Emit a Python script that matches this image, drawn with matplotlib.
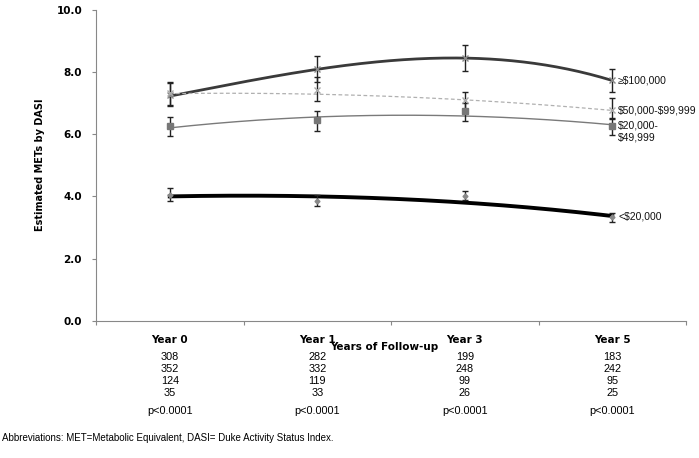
import numpy as np
import matplotlib
matplotlib.use("Agg")
import matplotlib.pyplot as plt

# data
years = ['Year 0', 'Year 1', 'Year 3', 'Year 5']
groups = ['\u2265$100,000', '$50,000-$99,999', '$20,000-\n$49,999', '<$20,000']

# observed means with 95% CI
mean_100k = [7.25, 8.09, 8.44, 7.73]
lo_100k = [6.89, 7.67, 8.04, 7.35]
hi_100k = [7.66, 8.50, 8.85, 8.10]

mean_50k = [7.32, 7.40, 7.08, 6.76]
lo_50k = [6.95, 7.07, 6.80, 6.51]
hi_50k = [7.64, 7.82, 7.35, 7.16]

mean_20k = [6.26, 6.44, 6.73, 6.27]
lo_20k = [5.95, 6.09, 6.41, 5.98]
hi_20k = [6.55, 6.73, 7.00, 6.50]

mean_low = [4.03, 3.84, 4.00, 3.35]
lo_low = [3.86, 3.68, 3.89, 3.19]
hi_low = [4.26, 4.03, 4.18, 3.48]

# fitted trend values at each visit
fit_100k = [7.22, 8.08, 8.44, 7.72]
fit_50k = [7.30, 7.28, 7.10, 6.76]
fit_20k = [6.20, 6.55, 6.58, 6.30]
fit_low = [4.00, 4.00, 3.80, 3.37]

counts = [[308, 282, 199, 183],
          [352, 332, 248, 242],
          [124, 119, 99, 95],
          [35, 33, 26, 25]]
pvals = ['p<0.0001'] * 4

plt.rcParams['text.parse_math'] = False

W, H = 699, 458
fig = plt.figure(figsize=(W / 100, H / 100), dpi=100)
ax = fig.add_axes([96 / W, 1 - 321 / H, 590 / W, 311.5 / H])

x = np.arange(len(years))
xs = np.linspace(0, 3, 200)

def smooth(vals):
    c = np.polyfit(x, vals, 3)
    return np.polyval(c, xs)

series = [
    (mean_100k, lo_100k, hi_100k, fit_100k, dict(color='#3a3a3a', lw=2.0, ls='-'), dict(marker='x', color='#888888', ms=5)),
    (mean_50k, lo_50k, hi_50k, fit_50k, dict(color='#b0b0b0', lw=0.9, ls=(0, (3, 2))), dict(marker='x', color='#aaaaaa', ms=4)),
    (mean_20k, lo_20k, hi_20k, fit_20k, dict(color='#7a7a7a', lw=1.0, ls='-'), dict(marker='s', color='#777777', ms=4)),
    (mean_low, lo_low, hi_low, fit_low, dict(color='black', lw=2.8, ls='-'), dict(marker='D', color='#888888', ms=2.5)),
]

for m, lo, hi, fit, lstyle, mstyle in series:
    m = np.array(m)
    err = [m - np.array(lo), np.array(hi) - m]
    ax.errorbar(x, m, yerr=err, fmt='none', ecolor='#222222', elinewidth=1.0,
                capsize=2.5, capthick=1.0, zorder=3)
    ax.plot(x, m, ls='none', zorder=4, **mstyle)
    ax.plot(xs, smooth(fit), zorder=2, **lstyle)

# labels at the end of each line
label_y = [7.73, 6.76, 6.28, 3.35]
for g, yv in zip(groups, label_y):
    va = 'top' if '\n' in g else 'center'
    yy = yv + 0.17 if '\n' in g else yv
    ax.text(3.04, yy, g, fontsize=7.5, family='Liberation Sans', va=va, ha='left',
            color='#111111', linespacing=1.3)

ax.set_xlim(-0.5, 3.5)
ax.set_ylim(0, 10)
ax.set_yticks(np.arange(0, 10.1, 2))
ax.set_yticklabels(['%.1f' % v for v in np.arange(0, 10.1, 2)], fontsize=7.5, fontweight='bold')
ax.set_xticks(x)
ax.set_xticklabels(years, fontsize=7.5, fontweight='bold')
ax.set_xticks(np.arange(-0.5, 3.6, 1), minor=True)
ax.tick_params(axis='x', which='major', length=0, pad=10)
ax.tick_params(axis='x', which='minor', length=3, color='#888888', width=0.8, direction='out')
ax.tick_params(axis='y', length=3, color='#888888', width=0.8, pad=7)

for s in ['top', 'right']:
    ax.spines[s].set_visible(False)
for s in ['left', 'bottom']:
    ax.spines[s].set_color('#888888')
    ax.spines[s].set_linewidth(0.8)

fig.text(40 / W, 1 - 165 / H, 'Estimated METs by DASI', rotation=90, fontsize=7,
         fontweight='bold', ha='center', va='center')
fig.text(384 / W, 1 - 347 / H, 'Years of Follow-up', fontsize=7.5, fontweight='bold',
         ha='center', va='center')

# numbers at risk and p values under each visit
rows = counts + [pvals]
row_y = [357, 369, 381, 393, 411]
for r, ypix in zip(rows, row_y):
    for xi, v in zip(x, r):
        ax.text(xi, (321 - ypix) / 311.5, str(v), transform=ax.get_xaxis_transform(),
                fontsize=7.8, family='Liberation Sans', ha='center', va='center')

fig.text(2 / W, 1 - 438 / H, 'Abbreviations: MET=Metabolic Equivalent, DASI= Duke Activity Status Index.',
         fontsize=7, family='Liberation Sans', ha='left', va='center')

fig.savefig('out.png', dpi=100)
